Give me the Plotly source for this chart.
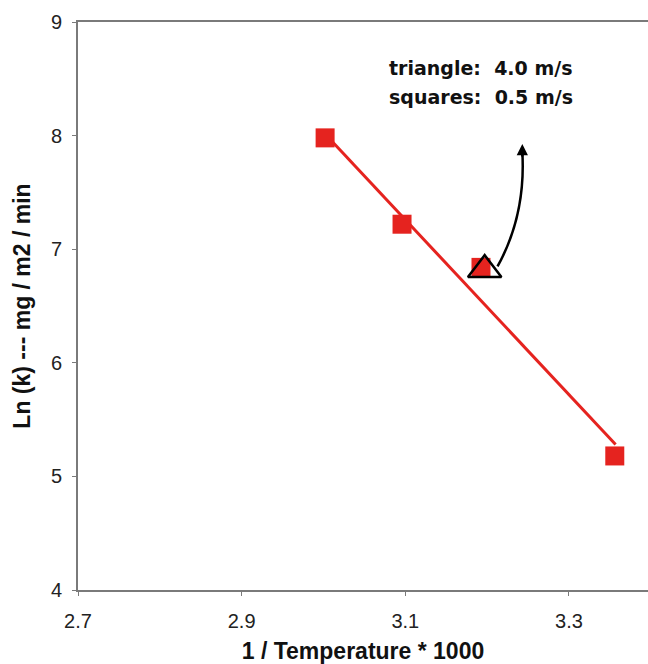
import plotly.graph_objects as go

# data
sq_x = [3.002, 3.096, 3.1925, 3.356]
sq_y = [7.98, 7.22, 6.84, 5.18]
tri_x = [3.197]
tri_y = [6.82]
fit_x = [3.0, 3.357]
fit_y = [8.03, 5.28]
x_ticks = [2.7, 2.9, 3.1, 3.3]
y_ticks = [4, 5, 6, 7, 8, 9]
legend_lines = ["triangle:  4.0 m/s", "squares:  0.5 m/s"]

RED = "#e5231f"
FONT = "Liberation Sans, Arial, Helvetica, sans-serif"

fig = go.Figure()
fig.add_trace(go.Scatter(x=fit_x, y=fit_y, mode="lines",
                         line=dict(color=RED, width=3), hoverinfo="skip"))
fig.add_trace(go.Scatter(x=sq_x, y=sq_y, mode="markers",
                         marker=dict(symbol="square", size=19, color=RED,
                                     line=dict(width=0))))
fig.add_trace(go.Scatter(x=tri_x, y=tri_y, mode="markers",
                         marker=dict(symbol="triangle-up", size=29,
                                     color="rgba(0,0,0,0)",
                                     line=dict(color="black", width=2.5))))

# curved arrow (decoration)
fig.add_shape(type="path", xref="x", yref="y",
              path="M 3.2127,6.848 Q 3.2475,7.301 3.2430,7.856",
              line=dict(color="black", width=2.5))
fig.add_annotation(x=3.2430, y=7.926, xref="x", yref="y", ax=0, ay=14,
                   axref="pixel", ayref="pixel", text="", showarrow=True,
                   arrowhead=2, arrowsize=0.9, arrowwidth=2.5,
                   arrowcolor="black")

for txt, yp in zip(legend_lines, [0.919, 0.868]):
    fig.add_annotation(x=0.542, y=yp, xref="paper", yref="paper",
                       xanchor="left", yanchor="middle", text=f"<b>{txt}</b>",
                       showarrow=False,
                       font=dict(family="DejaVu Sans", size=19, color="#111"),
                       bgcolor="white")

axis_common = dict(showgrid=False, zeroline=False, showline=True,
                   linecolor="#7a7a7a", linewidth=2, ticks="outside",
                   ticklen=4, tickwidth=1, tickcolor="#7a7a7a",
                   tickfont=dict(family=FONT, size=20, color="#222"))

fig.update_xaxes(range=[2.7, 3.3966], tickvals=x_ticks,
                 ticktext=[f"{v:.1f}" for v in x_ticks],
                 mirror=True, ticklabelstandoff=8,
                 title=dict(text="<b>1 / Temperature * 1000</b>",
                            font=dict(family=FONT, size=23, color="#111"),
                            standoff=12),
                 **axis_common)
fig.update_yaxes(range=[4, 9], tickvals=y_ticks,
                 ticktext=[str(v) for v in y_ticks],
                 ticklabelstandoff=6,
                 title=dict(text="<b>Ln (k) --- mg / m2 / min</b>",
                            font=dict(family=FONT, size=23, color="#111"),
                            standoff=14),
                 **axis_common)

fig.update_layout(width=648, height=664,
                  margin=dict(l=78, r=0, t=22, b=74, autoexpand=False),
                  plot_bgcolor="white", paper_bgcolor="white",
                  showlegend=False)

fig.write_html("out.html", config={"displayModeBar": False},
               post_script="document.body.style.margin='0';"
                           "document.body.style.overflow='hidden';")
